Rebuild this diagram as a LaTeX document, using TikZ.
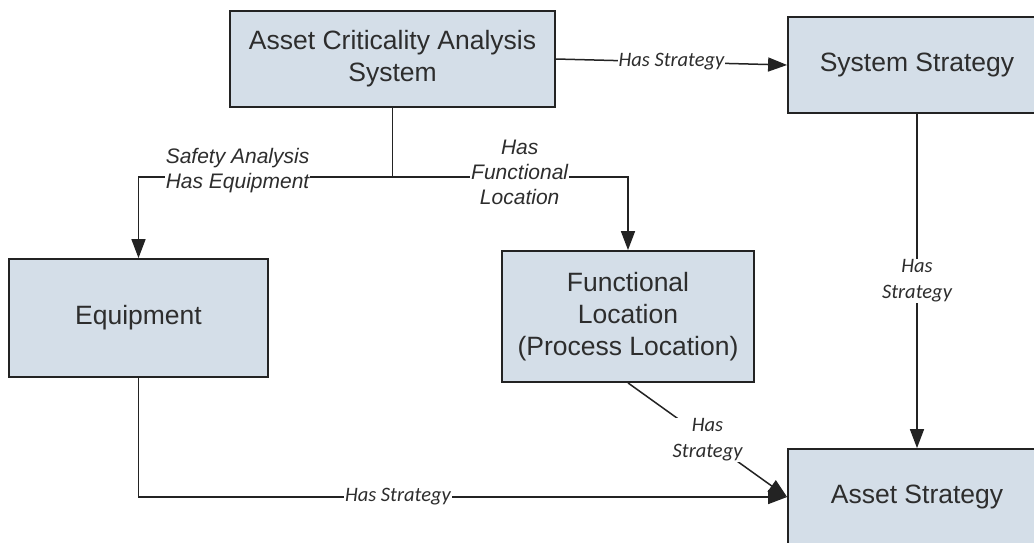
\documentclass[tikz,border=0pt]{standalone}
\usepackage{fontspec}
\setmainfont{Liberation Sans}
\newfontfamily\carlito{Carlito}
\usetikzlibrary{arrows.meta, positioning, calc}
\definecolor{boxfill}{RGB}{212, 222, 232}
\definecolor{boxline}{RGB}{35, 35, 35}
\definecolor{txtgray}{RGB}{45, 45, 45}

\begin{document}
\begin{tikzpicture}[x=1pt, y=-1pt,
    entity/.style={draw=boxline, line width=1.8pt, fill=boxfill, text=txtgray, align=center, inner sep=0pt, font=\fontsize{26.5}{32}\selectfont},
    link/.style={draw=boxline, line width=1.5pt},
    arrow/.style={link, -{Triangle[length=19pt, width=14pt]}},
    rel/.style={fill=white, inner sep=1pt, align=center, text=txtgray, font=\fontsize{21}{25}\selectfont\itshape},
    strat/.style={fill=white, inner sep=1pt, align=center, text=txtgray, font=\fontsize{20.5}{26}\selectfont\carlito\itshape}]
    % Frame
    \clip (0, 0) rectangle (1034, 542);
    \fill[white] (0, 0) rectangle (1034, 542);

    % Boxes
    \node[entity, minimum width=325pt, minimum height=96pt] (aca) at (392.5, 59) {Asset Criticality Analysis\\System};
    \node[entity, minimum width=258pt, minimum height=96pt] (sys) at (917, 65) {System Strategy};
    \node[entity, minimum width=259pt, minimum height=118pt] (equip) at (138.5, 318) {Equipment};
    \node[entity, minimum width=252pt, minimum height=131pt] (floc) at (628, 316.5) {Functional\\Location\\(Process Location)};
    \node[entity, minimum width=258pt, minimum height=96pt] (asset) at (917, 497) {Asset Strategy};

    % Connections
    \coordinate (split) at (392.5, 177);
    \draw[link] (aca.south) -- (split);
    \draw[arrow] (split) -| node[rel, pos=0.305, yshift=6pt] {Safety Analysis\\Has Equipment} (equip.north);
    \draw[arrow] (split) -| node[rel, pos=0.27, yshift=5pt] {Has\\Functional\\Location} (floc.north);
    \draw[arrow] (aca.east) -- node[strat] {Has Strategy} (sys.west);
    \draw[arrow] (sys.south) -- node[strat] {Has\\Strategy} (asset.north);
    \draw[arrow] (floc.south) -- node[strat] {Has\\Strategy} (asset.west);
    \draw[arrow] (equip.south) |- node[strat, pos=0.7] {Has Strategy} (asset.west);
\end{tikzpicture}
\end{document}
